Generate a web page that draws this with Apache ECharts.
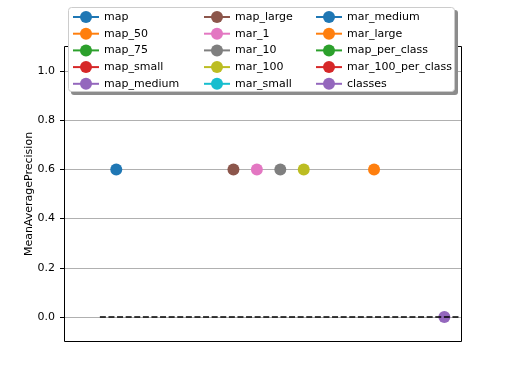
<!DOCTYPE html>
<html><head><meta charset="utf-8">
<script src="https://cdn.jsdelivr.net/npm/echarts@6/dist/echarts.min.js"></script>
<style>html,body{margin:0;padding:0;background:#fff}#c{width:512px;height:384px}</style>
</head><body><div id="c"></div>
<script>
const metricNames = ['map','map_50','map_75','map_small','map_medium','map_large','mar_1','mar_10','mar_100','mar_small','mar_medium','mar_large','map_per_class','mar_100_per_class','classes'];
const metricValues = [0.6,-1,-1,-1,-1,0.6,0.6,0.6,0.6,-1,-1,0.6,-1,-1,0];
const seriesColors = ['#1f77b4','#ff7f0e','#2ca02c','#d62728','#9467bd','#8c564b','#e377c2','#7f7f7f','#bcbd22','#17becf','#1f77b4','#ff7f0e','#2ca02c','#d62728','#9467bd'];
const yTicks = [0,0.2,0.4,0.6,0.8,1.0];
const boundLine = [[-0.7,0],[14.71,0]];
const legendColumns = [metricNames.slice(0,5), metricNames.slice(5,10), metricNames.slice(10,15)];

const font = 'DejaVu Sans';
const chart = echarts.init(document.getElementById('c'), null, {renderer:'canvas'});

const series = metricNames.map((n,i)=>({
  name:n, type:'line', data:[[i, metricValues[i]]],
  symbol:'circle', symbolSize:12, clip:false,
  itemStyle:{color:seriesColors[i]},
  lineStyle:{color:seriesColors[i], width:1.7},
  z:3
}));
series.push({
  name:'bound', type:'line', data:boundLine, symbol:'none', clip:false,
  lineStyle:{color:'#000', width:1.7, type:[6,2.6]}, z:4, silent:true
});

const legendLefts = [72, 203, 315];
const legends = legendColumns.map((col,k)=>({
  data: col, orient:'vertical', left: legendLefts[k], top: 11,
  itemWidth:26, itemHeight:15, itemGap:4.7, padding:0,
  textStyle:{fontFamily:font, fontSize:11, color:'#000'},
  z:60
}));

chart.setOption({
  animation:false,
  backgroundColor:'#fff',
  grid:{left:64, right:51, top:71, bottom:67},
  xAxis:{type:'value', min:-2.23, max:14.71, show:false},
  yAxis:{
    type:'value', min:yTicks[0], max:yTicks[yTicks.length-1], interval:0.2,
    name:'MeanAveragePrecision', nameLocation:'middle', nameGap:29, nameMoveOverlap:false,
    nameTextStyle:{fontFamily:font, fontSize:11, color:'#000'},
    axisLine:{show:false, onZero:false},
    axisTick:{show:true, length:4, inside:false, lineStyle:{color:'#000', width:1}},
    axisLabel:{fontFamily:font, fontSize:11, color:'#000', margin:9, formatter:v=>v.toFixed(1)},
    splitLine:{show:true, lineStyle:{color:'#b0b0b0', width:1}}
  },
  legend: legends,
  graphic:[
    {type:'rect', shape:{x:64.5, y:46.5, width:397, height:295}, style:{fill:null, stroke:'#000', lineWidth:1}, z:40, silent:true},
    {type:'rect', shape:{x:71, y:10, width:387, height:85, r:3}, style:{fill:'#8c8c8c'}, z:50, silent:true},
    {type:'rect', shape:{x:68.5, y:7.5, width:386, height:84, r:3}, style:{fill:'#fff', stroke:'#cccccc', lineWidth:1}, z:51, silent:true}
  ],
  series: series
});
</script></body></html>
